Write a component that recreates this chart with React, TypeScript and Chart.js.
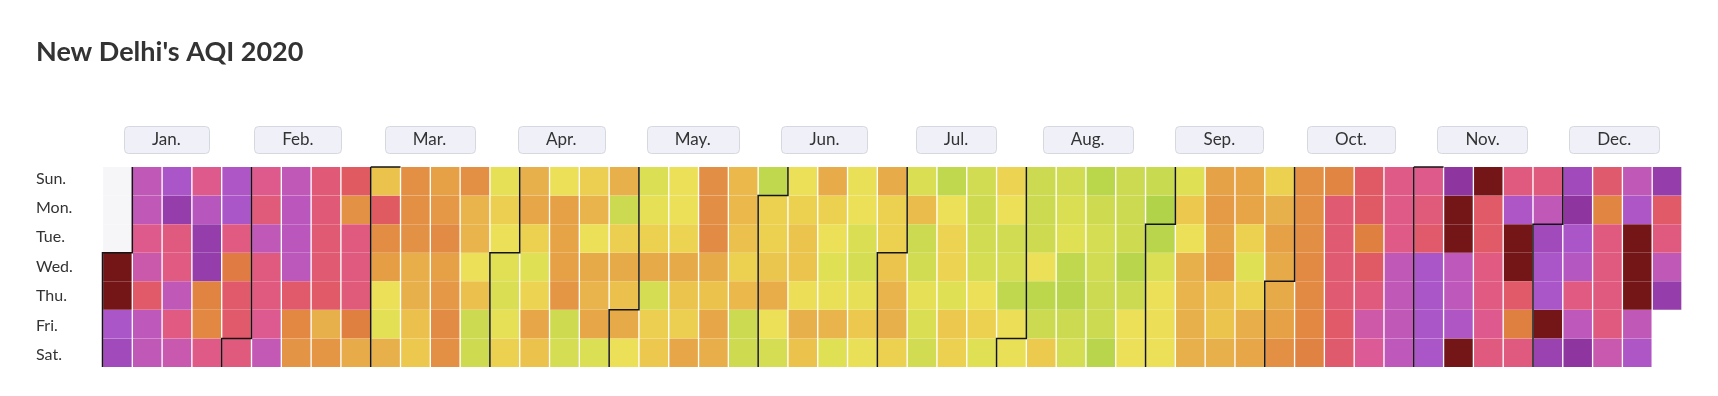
import React, { useEffect, useRef } from 'react';
import { Chart, registerables } from 'chart.js';

Chart.register(...registerables);

const YEAR = 2020;
const chartTitle = "New Delhi's AQI 2020";
const monthLabels = ['Jan.', 'Feb.', 'Mar.', 'Apr.', 'May.', 'Jun.', 'Jul.', 'Aug.', 'Sep.', 'Oct.', 'Nov.', 'Dec.'];
const dayLabels = ['Sun.', 'Mon.', 'Tue.', 'Wed.', 'Thu.', 'Fri.', 'Sat.'];

// Daily AQI values
const jan = [430, 430, 340, 350, 320, 320, 290, 312, 265, 322, 320, 340, 362, 280, 282, 320, 282, 314, 290, 328, 362, 362, 235, 230, 286, 336, 340, 282, 242, 266, 266];
const feb = [278, 290, 275, 320, 280, 280, 294, 318, 320, 325, 325, 324, 266, 230, 215, 274, 274, 272, 270, 264, 180, 212, 260, 218, 280, 280, 276, 240, 186];
const mar = [158, 260, 225, 202, 118, 105, 180, 220, 220, 218, 182, 180, 160, 150, 200, 210, 226, 200, 210, 226, 220, 220, 175, 175, 118, 160, 80, 82, 110, 142, 120];
const apr = [102, 92, 110, 140, 180, 192, 140, 100, 135, 192, 158, 118, 200, 195, 200, 212, 82, 88, 142, 175, 120, 188, 175, 192, 95, 180, 80, 142, 188, 160];
const may = [188, 120, 95, 110, 140, 188, 88, 142, 150, 120, 118, 136, 188, 155, 142, 192, 222, 222, 226, 188, 158, 192, 182, 170, 170, 160, 140, 170, 80, 82, 72];
const jun = [140, 140, 152, 185, 120, 88, 120, 140, 155, 155, 122, 180, 158, 186, 140, 120, 100, 115, 175, 100, 115, 120, 92, 88, 112, 150, 115, 186, 140, 140];
const jul = [155, 175, 180, 140, 92, 165, 80, 84, 110, 92, 85, 72, 120, 135, 135, 100, 150, 140, 85, 82, 84, 88, 120, 140, 100, 135, 120, 85, 88, 72, 122];
const aug = [115, 80, 80, 82, 120, 70, 80, 148, 85, 92, 100, 72, 66, 80, 88, 68, 82, 88, 85, 80, 80, 66, 80, 80, 82, 66, 80, 120, 118, 78, 60];
const sep = [66, 95, 120, 122, 120, 100, 150, 118, 180, 175, 180, 180, 198, 206, 198, 206, 160, 155, 180, 194, 194, 140, 100, 140, 182, 192, 140, 180, 200, 188];
const oct = [188, 200, 220, 220, 220, 222, 228, 228, 230, 238, 232, 270, 270, 270, 270, 265, 268, 262, 262, 240, 262, 278, 310, 298, 286, 285, 285, 320, 320, 320, 322];
const nov = [288, 275, 266, 340, 340, 340, 340, 370, 430, 430, 322, 322, 335, 430, 430, 264, 264, 282, 282, 292, 280, 280, 336, 430, 430, 265, 240, 280, 278, 320];
const dec = [350, 340, 340, 430, 358, 350, 370, 340, 330, 282, 322, 370, 268, 232, 280, 280, 280, 280, 314, 320, 336, 430, 430, 430, 320, 336, 362, 264, 280, 320, 362];

const aqi2020 = [...jan, ...feb, ...mar, ...apr, ...may, ...jun, ...jul, ...aug, ...sep, ...oct, ...nov, ...dec];

// colour scale (AQI -> colour)
const scaleValues = [55, 70, 85, 100, 120, 140, 160, 180, 200, 220, 240, 260, 280, 300, 320, 340, 370, 430];
const scaleColors = ['#a9d148', '#bdd74c', '#d2dc52', '#e0e055', '#ece058', '#ecd050', '#ebc04c', '#e8b04a', '#e6a045', '#e39045', '#e08040', '#e05a62', '#e05a80', '#dc5a98', '#c058b8', '#aa55c8', '#8e35a0', '#741518'];

const FONT = 'Lato, "Noto Sans", sans-serif';
const TEXT = '#333333';
const MONTH_FONT = 17;
const MONTH_PAD = 17;
// weekday labels sit slightly spread relative to the rows, as in the reference
const DAY_LABEL_START = 0.4;
const DAY_LABEL_STEP = 1.03;

function hexToRgb(h: string) {
  const n = parseInt(h.slice(1), 16);
  return [(n >> 16) & 255, (n >> 8) & 255, n & 255];
}

function colorFor(v: number) {
  if (v <= scaleValues[0]) return scaleColors[0];
  const last = scaleValues.length - 1;
  if (v >= scaleValues[last]) return scaleColors[last];
  let i = 0;
  while (v > scaleValues[i + 1]) i++;
  const t = (v - scaleValues[i]) / (scaleValues[i + 1] - scaleValues[i]);
  const a = hexToRgb(scaleColors[i]);
  const b = hexToRgb(scaleColors[i + 1]);
  const c = a.map((x, k) => Math.round(x + (b[k] - x) * t));
  return `rgb(${c[0]},${c[1]},${c[2]})`;
}

const DAY_MS = 86400000;
const yearStart = Date.UTC(YEAR, 0, 1);
const firstDow = new Date(yearStart).getUTCDay();

function cellOf(dayIndex: number) {
  const idx = dayIndex + firstDow;
  return { week: Math.floor(idx / 7), dow: idx % 7 };
}

export default function App() {
  const ref = useRef<HTMLCanvasElement>(null);

  useEffect(() => {
    if (!ref.current) return;
    const nWeeks = Math.ceil((firstDow + aqi2020.length) / 7);
    const weeks = Array.from({ length: nWeeks }, (_, i) => String(i));

    const datasets = dayLabels.map((name) => ({
      label: name,
      data: new Array(nWeeks).fill(null) as any[],
      backgroundColor: new Array(nWeeks).fill('#ffffff') as string[],
    }));
    for (let k = 0; k < firstDow; k++) {
      datasets[k].data[0] = [k, k + 1];
      datasets[k].backgroundColor[0] = '#f6f6f9';
    }
    aqi2020.forEach((v, i) => {
      const { week, dow } = cellOf(i);
      datasets[dow].data[week] = [dow, dow + 1];
      datasets[dow].backgroundColor[week] = colorFor(v);
    });

    const monthBoxes = {
      id: 'monthBoxes',
      beforeDraw(chart: any) {
        const s = chart.scales.x2;
        const ctx = chart.ctx;
        ctx.save();
        ctx.font = `${MONTH_FONT}px ${FONT}`;
        const cy = s.bottom - MONTH_PAD - (MONTH_FONT * 1.2) / 2;
        monthLabels.forEach((lab, i) => {
          const cx = s.getPixelForTick(i) - 2;
          const w = ctx.measureText(lab).width + 56;
          const h = 27;
          ctx.beginPath();
          ctx.roundRect(Math.round(cx - w / 2) + 0.5, Math.round(cy - h / 2) + 0.5, Math.round(w), h, 4);
          ctx.fillStyle = '#eff0f8';
          ctx.fill();
          ctx.strokeStyle = '#d6d8e0';
          ctx.lineWidth = 1;
          ctx.stroke();
        });
        ctx.restore();
      },
    };

    const monthLines = {
      id: 'monthLines',
      afterDatasetsDraw(chart: any) {
        const x = chart.scales.x;
        const y = chart.scales.y;
        const half = (x.getPixelForValue(1) - x.getPixelForValue(0)) / 2;
        const ctx = chart.ctx;
        ctx.save();
        ctx.strokeStyle = '#141414';
        ctx.lineWidth = 1.5;
        for (let m = 0; m < 12; m++) {
          const first = Math.round((Date.UTC(YEAR, m, 1) - yearStart) / DAY_MS);
          const pts: number[][] = [];
          for (let i = 0; i < 7; i++) {
            const { week, dow } = cellOf(first + i);
            const left = x.getPixelForValue(week) - half;
            pts[2 * dow] = [left, y.getPixelForValue(dow)];
            pts[2 * dow + 1] = [left, y.getPixelForValue(dow + 1)];
          }
          ctx.beginPath();
          pts.forEach(([px, py], k) => (k ? ctx.lineTo(px, py) : ctx.moveTo(px, py)));
          ctx.stroke();
          const c0 = cellOf(first);
          if (c0.dow === 0) {
            const l = x.getPixelForValue(c0.week) - half;
            const t = y.getPixelForValue(0);
            ctx.beginPath();
            ctx.moveTo(l, t);
            ctx.lineTo(l + 2 * half, t);
            ctx.stroke();
          }
        }
        ctx.restore();
      },
    };

    const chart = new Chart(ref.current, {
      type: 'bar',
      data: { labels: weeks, datasets: datasets as any },
      options: {
        animation: false,
        responsive: true,
        maintainAspectRatio: false,
        layout: { padding: { left: 28, right: 28, top: 0, bottom: 21 } },
        datasets: {
          bar: {
            grouped: false,
            barPercentage: 1,
            categoryPercentage: 1,
            borderWidth: { left: 1, right: 1, top: 0, bottom: 0 },
            borderColor: '#ffffff',
            borderSkipped: false,
          } as any,
        },
        plugins: {
          legend: { display: false },
          tooltip: { enabled: false },
          title: {
            display: true,
            text: chartTitle,
            align: 'start',
            color: TEXT,
            font: { family: FONT, size: 27, weight: 'bold' },
            padding: { top: 27.8, bottom: 0 },
          },
        },
        scales: {
          x: { display: false, offset: true },
          x2: {
            type: 'category',
            labels: monthLabels,
            position: 'top',
            offset: true,
            grid: { display: false, drawTicks: false },
            border: { display: false },
            ticks: {
              color: TEXT,
              font: { family: FONT, size: MONTH_FONT },
              padding: MONTH_PAD,
              maxRotation: 0,
              autoSkip: false,
              labelOffset: -2,
            },
            afterFit: (s: any) => {
              s.height = 98.8;
            },
          } as any,
          y: {
            min: 0,
            max: 7,
            reverse: true,
            grid: { display: false, drawTicks: false },
            border: { display: false },
            afterBuildTicks: (s: any) => {
              s.ticks = dayLabels.map((_, i) => ({ value: DAY_LABEL_START + i * DAY_LABEL_STEP }));
            },
            afterFit: (s: any) => {
              s.width = 66.5;
            },
            ticks: {
              color: TEXT,
              crossAlign: 'far',
              autoSkip: false,
              font: { family: FONT, size: 16 },
              callback: (_v: any, i: number) => dayLabels[i],
            },
          } as any,
        },
      },
      plugins: [monthBoxes, monthLines],
    });
    return () => chart.destroy();
  }, []);

  return (
    <div style={{ width: 1702, height: 380, position: 'relative' }}>
      <canvas ref={ref} />
    </div>
  );
}
